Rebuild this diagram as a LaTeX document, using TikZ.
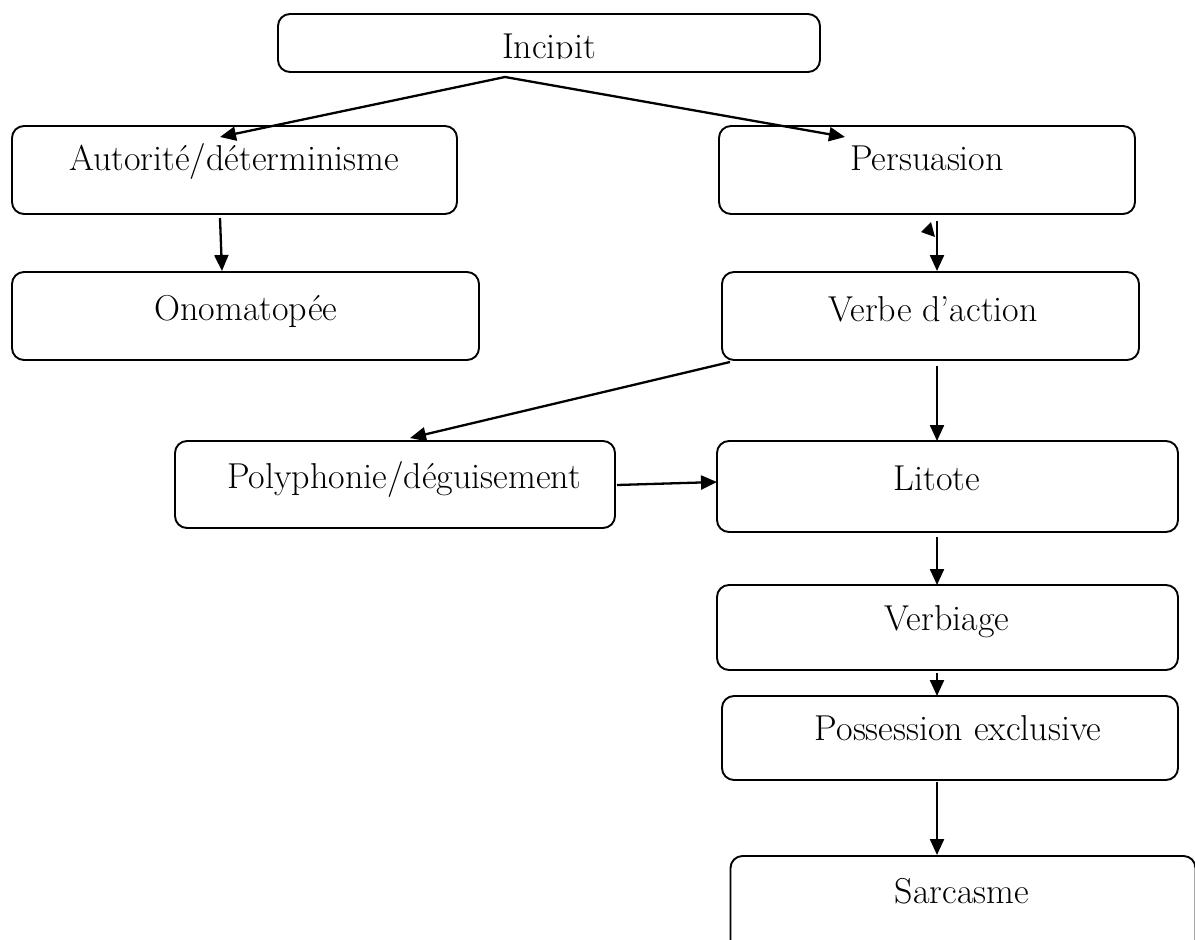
\documentclass[tikz,border=0pt]{standalone}
\usetikzlibrary{arrows.meta}
\begin{document}
\begin{tikzpicture}[x=1pt,y=-1pt,
  box/.style={draw=black, line width=1.9pt, rounded corners=12pt, inner sep=0pt},
  lbl/.style={anchor=base, inner sep=0pt, font=\fontsize{36}{41}\selectfont},
  conn/.style={draw=black, line width=2.3pt, -{Triangle[length=16pt,width=14pt]}}]
\useasboundingbox (0,0) rectangle (1195,940);
\clip (0,0) rectangle (1195,940);

% boxes
\node[box, minimum width=542pt, minimum height=58pt] (inc) at (549,43) {};
\node[box, minimum width=445pt, minimum height=88pt] (aut) at (234.5,170) {};
\node[box, minimum width=416pt, minimum height=88pt] (per) at (927,170) {};
\node[box, minimum width=467pt, minimum height=88pt] (ono) at (245.5,316) {};
\node[box, minimum width=417pt, minimum height=88pt] (vrb) at (930.5,316) {};
\node[box, minimum width=440pt, minimum height=87pt] (pol) at (395,484.5) {};
\node[box, minimum width=461pt, minimum height=91pt] (lit) at (947.5,486.5) {};
\node[box, minimum width=461pt, minimum height=85pt] (vbg) at (947.5,627.5) {};
\node[box, minimum width=456pt, minimum height=84pt] (pos) at (950,738) {};
\node[box, minimum width=465pt, minimum height=100pt] (sar) at (963,906) {};

% labels (the title line is cut by the lower edge of its frame)
\begin{scope}
  \clip (280,16) rectangle (818,58);
  \node[lbl] (tinc) at (549,58) {Incipit};
\end{scope}
\node[lbl] (taut) at (234,170) {Autorité/déterminisme};
\node[lbl] (tper) at (927,170) {Persuasion};
\node[lbl] (tono) at (246,320) {Onomatopée};
\node[lbl] (tvrb) at (933,321) {Verbe d’action};
\node[lbl] (tpol) at (404,488) {Polyphonie/déguisement};
\node[lbl] (tlit) at (937,490) {Litote};
\node[lbl] (tvbg) at (947,630) {Verbiage};
\node[lbl] (tpos) at (958,740) {Possession exclusive};
\node[lbl] (tsar) at (962,903) {Sarcasme};

% connector end points
\coordinate (apex) at (505,77);
\coordinate (autin) at (220,137);
\coordinate (perin) at (845,137);
\coordinate (autout) at (220,218);
\coordinate (onoin) at (222,271);
\coordinate (perout) at (937,221);
\coordinate (vrbin) at (937,271);
\coordinate (vrbout) at (730,362);
\coordinate (polin) at (410,438);
\coordinate (vrbdown) at (937,366);
\coordinate (litin) at (937,441);
\coordinate (polout) at (617,485);
\coordinate (litleft) at (717,482);
\coordinate (litout) at (937,537);
\coordinate (vbgin) at (937,585);
\coordinate (vbgout) at (937,673);
\coordinate (posin) at (937,696);
\coordinate (posout) at (937,782);
\coordinate (sarin) at (937,855);

\draw[conn] (apex) -- (autin);
\draw[conn] (apex) -- (perin);
\draw[conn] (autout) -- (onoin);
\draw[conn] (perout) -- (vrbin);
\fill[black] (921,232) -- (931,222) -- (935,237) -- cycle;
\draw[conn] (vrbout) -- (polin);
\draw[conn] (vrbdown) -- (litin);
\draw[conn] (polout) -- (litleft);
\draw[conn] (litout) -- (vbgin);
\draw[conn] (vbgout) -- (posin);
\draw[conn] (posout) -- (sarin);
\end{tikzpicture}
\end{document}
